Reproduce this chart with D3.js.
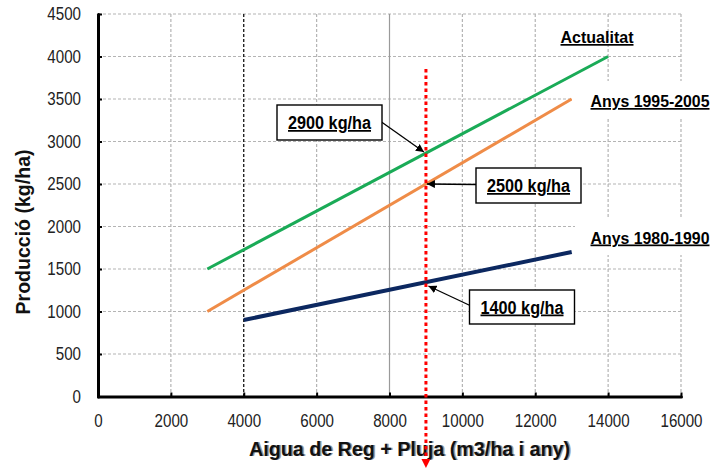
<!DOCTYPE html>
<html>
<head>
<meta charset="utf-8">
<script src="https://cdn.jsdelivr.net/npm/d3@7"></script>
<style>
  html, body { margin: 0; padding: 0; background: #fff; }
  svg { display: block; font-family: "Liberation Sans", Arial, sans-serif; }
</style>
</head>
<body>
<svg id="chart" width="717" height="469"></svg>
<script>
// Axis ticks
const xTicks = [0, 2000, 4000, 6000, 8000, 10000, 12000, 14000, 16000];
const yTicks = [0, 500, 1000, 1500, 2000, 2500, 3000, 3500, 4000, 4500];

// Series: water (m3/ha i any) vs production (kg/ha)
const seriesNames = ["Actualitat", "Anys 1995-2005", "Anys 1980-1990"];
const actualitatWater = [3000, 14000];
const actualitatProd = [1500, 4000];
const anys1995Water = [3000, 13000];
const anys1995Prod = [1000, 3500];
const anys1980Water = [4000, 13000];
const anys1980Prod = [900, 1700];

// Reference water supply and production read at that supply
const referenceWater = 9000;
const calloutValues = [2900, 2500, 1400];
const calloutLabels = ["2900 kg/ha", "2500 kg/ha", "1400 kg/ha"];

const svg = d3.select("#chart");
const x = d3.scaleLinear().domain([0, 16000]).range([98, 681]);
const y = d3.scaleLinear().domain([0, 4500]).range([396.5, 14]);

// Grid
const grid = svg.append("g");
grid.selectAll("line.h").data(yTicks.slice(1)).join("line")
  .attr("x1", x(0)).attr("x2", x(16000))
  .attr("y1", d => y(d)).attr("y2", d => y(d))
  .attr("stroke", "#b4b4b4").attr("stroke-width", 1.2)
  .attr("stroke-dasharray", "3,2");
grid.selectAll("line.v").data(xTicks.slice(1)).join("line")
  .attr("x1", d => x(d)).attr("x2", d => x(d))
  .attr("y1", y(4500)).attr("y2", y(0))
  .attr("stroke", d => d === 4000 ? "#000" : d === 8000 ? "#9a9a9a" : "#b4b4b4")
  .attr("stroke-width", 1.2)
  .attr("stroke-dasharray", d => d === 8000 ? null : "3,2");

// Series lines
const series = [
  { name: seriesNames[0], wx: actualitatWater, py: actualitatProd, color: "#1aab57", width: 3 },
  { name: seriesNames[1], wx: anys1995Water, py: anys1995Prod, color: "#ef8c48", width: 3 },
  { name: seriesNames[2], wx: anys1980Water, py: anys1980Prod, color: "#0c2860", width: 4 }
];
const line = d3.line().x(d => x(d[0])).y(d => y(d[1]));
series.forEach(s => {
  svg.append("path")
    .datum(d3.zip(s.wx, s.py))
    .attr("d", line)
    .attr("fill", "none")
    .attr("stroke", s.color)
    .attr("stroke-width", s.width);
});

// Axes
const squeeze = sel => sel.each(function () {
  const w = this.getComputedTextLength();
  d3.select(this).attr("textLength", w * 0.84).attr("lengthAdjust", "spacingAndGlyphs");
});
const yAxis = svg.append("g").attr("transform", `translate(${x(0)},0)`)
  .call(d3.axisLeft(y).tickValues(yTicks).tickSize(-4).tickSizeOuter(0).tickPadding(17).tickFormat(d3.format("d")));
const xAxis = svg.append("g").attr("transform", `translate(0,${y(0)})`)
  .call(d3.axisBottom(x).tickValues(xTicks).tickSize(-4).tickSizeOuter(0).tickPadding(17.5).tickFormat(d3.format("d")));
[yAxis, xAxis].forEach(a => {
  a.select(".domain").attr("stroke", "#000").attr("stroke-width", 3).attr("stroke-linecap", "round");
  a.selectAll(".tick line").attr("stroke", "#000").attr("stroke-width", 2);
  a.selectAll(".tick text").attr("font-size", 18).attr("fill", "#222")
    .attr("font-family", "'Liberation Sans', Arial, sans-serif").call(squeeze);
});

// Axis titles
svg.append("text")
  .attr("transform", `translate(29.5,232) rotate(-90)`)
  .attr("text-anchor", "middle")
  .attr("font-size", 20).attr("font-weight", "bold").attr("fill", "#111")
  .attr("textLength", 165).attr("lengthAdjust", "spacingAndGlyphs")
  .text("Producció (kg/ha)");
const xTitle = "Aigua de Reg + Pluja (m3/ha i any)";
[["#999", 411], ["#111", 409.5]].forEach(([fill, cx]) => {
  svg.append("text")
    .attr("x", cx).attr("y", 456).attr("text-anchor", "middle")
    .attr("font-size", 20).attr("font-weight", "bold").attr("fill", fill)
    .attr("textLength", 321).attr("lengthAdjust", "spacingAndGlyphs")
    .text(xTitle);
});

// Series labels with white background
const labelPos = [
  { x: 597, y: 43, w: 73, bg: null },
  { x: 650, y: 107, w: 119, bg: [572, 81, 145, 36] },
  { x: 650, y: 243.5, w: 119, bg: [575, 218, 142, 37] }
];
labelPos.forEach((p, i) => {
  if (p.bg) {
    svg.append("rect").attr("x", p.bg[0]).attr("y", p.bg[1])
      .attr("width", p.bg[2]).attr("height", p.bg[3]).attr("fill", "#fff");
  }
  svg.append("text").attr("x", p.x).attr("y", p.y).attr("text-anchor", "middle")
    .attr("font-size", 17).attr("font-weight", "bold").attr("fill", "#000")
    .attr("textLength", p.w).attr("lengthAdjust", "spacingAndGlyphs")
    .style("text-decoration", "underline")
    .text(seriesNames[i]);
});

// Reference supply line (red dotted with arrowhead)
const defs = svg.append("defs");
defs.append("marker").attr("id", "blackArrow")
  .attr("viewBox", "0 0 10 10").attr("refX", 10).attr("refY", 5)
  .attr("markerWidth", 8).attr("markerHeight", 8).attr("markerUnits", "userSpaceOnUse")
  .attr("orient", "auto")
  .append("path").attr("d", "M0,0 L10,5 L0,10 Z").attr("fill", "#000");

const rx = x(referenceWater);
svg.append("line")
  .attr("x1", rx).attr("x2", rx).attr("y1", 69).attr("y2", 460)
  .attr("stroke", "#ff0000").attr("stroke-width", 3)
  .attr("stroke-dasharray", "3.5,3");
svg.append("path")
  .attr("d", `M${rx - 4.5},459 L${rx + 4.5},459 L${rx},468 Z`)
  .attr("fill", "#ff0000");

// Callouts
const callouts = [
  { box: [277, 105, 105, 35], from: [381.5, 122], tipDx: -2, tipDy: 2 },
  { box: [476, 168, 105, 35], from: [476, 184.5], tipDx: 1, tipDy: 0 },
  { box: [469.5, 290, 105, 34], from: [470, 305.5], tipDx: 2.5, tipDy: 8.5 }
];
callouts.forEach((c, i) => {
  const tip = [rx + c.tipDx, y(calloutValues[i]) + c.tipDy];
  svg.append("line")
    .attr("x1", c.from[0]).attr("y1", c.from[1])
    .attr("x2", tip[0]).attr("y2", tip[1])
    .attr("stroke", "#000").attr("stroke-width", 1.3)
    .attr("marker-end", "url(#blackArrow)");
  svg.append("rect")
    .attr("x", c.box[0]).attr("y", c.box[1])
    .attr("width", c.box[2]).attr("height", c.box[3])
    .attr("fill", "#fff").attr("stroke", "#000").attr("stroke-width", 1.4);
  svg.append("text")
    .attr("x", c.box[0] + c.box[2] / 2).attr("y", c.box[1] + c.box[3] / 2 + 6.5)
    .attr("text-anchor", "middle")
    .attr("font-size", 17.5).attr("font-weight", "bold").attr("fill", "#000")
    .attr("textLength", 83).attr("lengthAdjust", "spacingAndGlyphs")
    .style("text-decoration", "underline")
    .text(calloutLabels[i]);
});
</script>
</body>
</html>
